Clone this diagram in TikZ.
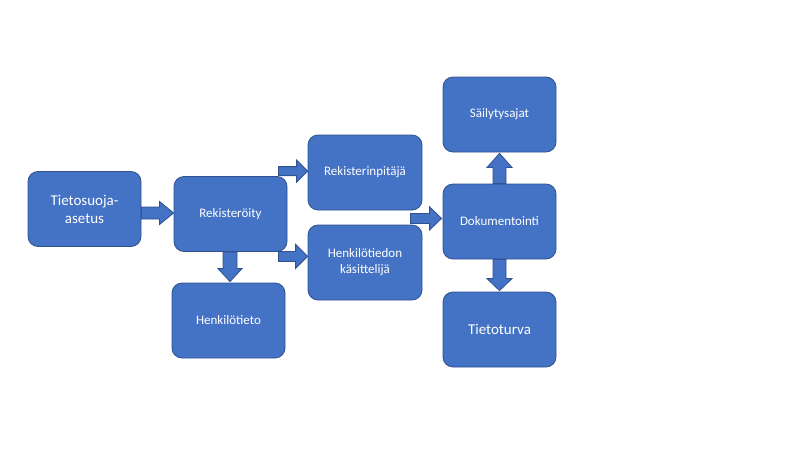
\documentclass[tikz,border=0pt]{standalone}
\usepackage{fontspec}
\setmainfont{Carlito}
\usetikzlibrary{calc}
\definecolor{boxblue}{HTML}{4472C4}
\definecolor{edgeblue}{HTML}{2F528F}
\tikzset{
  box/.style={draw=edgeblue, line width=0.8pt, fill=boxblue, rounded corners=10pt,
    minimum width=113pt, minimum height=75pt, inner sep=2pt, text=white,
    align=center, font=\fontsize{13}{16}\selectfont},
  bigtext/.style={font=\fontsize{15}{18}\selectfont},
  barrow/.style={draw=edgeblue, line width=0.8pt, fill=boxblue}
}
% horizontal rightward block arrow: start, end, shaft half, head half, head length
\newcommand\harrowx[5]{%
  \draw[barrow] let \p1=#1, \p2=#2 in
    (\x1,\y1+#3) -- (\x2-#5,\y1+#3) -- (\x2-#5,\y1+#4) -- (\x2,\y1) --
    (\x2-#5,\y1-#4) -- (\x2-#5,\y1-#3) -- (\x1,\y1-#3) -- cycle;}
% vertical block arrow: start, end, shaft half, head half, signed head offset
\newcommand\varrowx[5]{%
  \draw[barrow] let \p1=#1, \p2=#2 in
    (\x1+#3,\y1) -- (\x1+#3,\y2+#5) -- (\x1+#4,\y2+#5) -- (\x1,\y2) --
    (\x1-#4,\y2+#5) -- (\x1-#3,\y2+#5) -- (\x1-#3,\y1) -- cycle;}
\begin{document}
\begin{tikzpicture}[x=1pt,y=-1pt]
\useasboundingbox (0,0) rectangle (800,450);
\node[box,bigtext] (ts) at (84.5,209) {Tietosuoja-\\asetus};
\node[box] (rek) at (230.5,214) {Rekisteröity};
\node[box] (ht) at (228.5,320.5) {Henkilötieto};
\node[box,minimum width=114pt] (rp) at (365,172.5) {Rekisterinpitäjä};
\node[box,minimum width=114pt] (hk) at (365,262.5) {Henkilötiedon\\käsittelijä};
\node[box] (sa) at (499.5,114.5) {Säilytysajat};
\node[box] (dok) at (499.5,221.5) {Dokumentointi};
\node[box,bigtext] (tt) at (499.5,329.5) {Tietoturva};

\harrowx{($(ts.east)+(0,4)$)}{(rek.west)}{6pt}{11.5pt}{14pt}
\harrowx{($(rek.north east)+(-9,-5)$)}{(rp.west)}{4.5pt}{11pt}{11pt}
\harrowx{($(rek.south east)+(-9,4.5)$)}{(hk.west)}{5pt}{12pt}{12pt}
\varrowx{($(rek.south)+(-0.5,0)$)}{($(ht.north)+(0,-1)$)}{7pt}{12pt}{13pt}
\harrowx{($(rp.south east)+(-12,8)$)}{($(dok.west)+(-1,0)$)}{5pt}{11.5pt}{12pt}
\varrowx{(dok.north)}{($(sa.south)+(0,1)$)}{6.5pt}{12.5pt}{-14pt}
\varrowx{(dok.south)}{($(tt.north)+(0,-1)$)}{6.5pt}{12.5pt}{12pt}
\end{tikzpicture}
\end{document}
